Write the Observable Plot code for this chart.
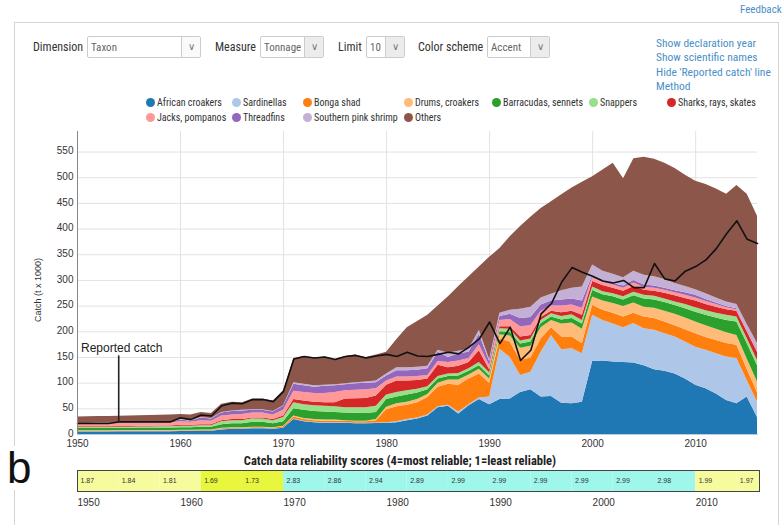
<!DOCTYPE html>
<html><head><meta charset="utf-8">
<script src="https://cdn.jsdelivr.net/npm/d3@7"></script>
<script src="https://cdn.jsdelivr.net/npm/@observablehq/plot@0.6"></script>
<style>
html,body{margin:0;padding:0;background:#fff;}
body{width:784px;height:525px;position:relative;overflow:hidden;font-family:"Liberation Sans Narrow","Roboto Condensed","Liberation Sans",sans-serif;color:#333;}
.abs{position:absolute;white-space:nowrap;}
.panel{position:absolute;left:14px;top:22px;width:763px;height:520px;border:1px solid #d4d4d4;}
.lbl{font-size:12px;color:#333;}
.sel{position:absolute;height:22px;border:1px solid #ccc;border-radius:2px;background:#fff;box-sizing:border-box;font-size:11px;color:#666;overflow:hidden;}
.sel span{position:absolute;left:3px;top:4px;}
.sel i{position:absolute;right:0;top:0;bottom:0;width:18px;border-left:1px solid #ccc;background:#ececec;font-style:normal;text-align:center;font-size:10px;line-height:20px;color:#777;}
.link{font-size:11.5px;color:#4a8fc7;}
.leg{position:absolute;font-size:10px;color:#333;white-space:nowrap;}
.leg b{display:inline-block;width:9px;height:9px;border-radius:50%;vertical-align:-1px;margin-right:2px;}
</style></head><body>
<script>
// ---------------- DATA ----------------
const years = [1950,1951,1952,1953,1954,1955,1956,1957,1958,1959,
  1960,1961,1962,1963,1964,1965,1966,1967,1968,1969,
  1970,1971,1972,1973,1974,1975,1976,1977,1978,1979,
  1980,1981,1982,1983,1984,1985,1986,1987,1988,1989,
  1990,1991,1992,1993,1994,1995,1996,1997,1998,1999,
  2000,2001,2002,2003,2004,2005,2006,2007,2008,2009,
  2010,2011,2012,2013,2014,2015,2016];

const taxa = ["African croakers","Sardinellas","Bonga shad","Drums, croakers","Barracudas, sennets","Snappers","Sharks, rays, skates","Jacks, pompanos","Threadfins","Southern pink shrimp","Others"];
const taxaColors = ["#1f77b4","#aec7e8","#ff7f0e","#ffbb78","#2ca02c","#98df8a","#d62728","#ff9896","#9467bd","#c5b0d5","#8c564b"];

const africanCroakers = [5,5,5,5,5.5,5.5,5.5,5.5,5.5,5.5, 6,6,6.5,6.5,9,10,10,11,11,10, 12,29,25,23,22,22,22,21,21,21.5, 22,23,27,30,36,52,55,40,56,68, 58,68,69,82,87,73,74,61,60,63, 142,143,141,140,139,134,126,123,118,108, 96,89,79,66,60,73,33];
const sardinellas = [0.5,0.5,0.5,0.5,0.5,0.5,0.5,0.5,0.5,0.5, 0.5,0.5,0.5,0.5,0.5,0.5,0.5,0.5,0.5,0.5, 0.5,1,1,1,1,1,1,1,1,1, 1,2,2,2,2,2,2,4,2,3, 15,98,81,33,34,87,119,104,107,94, 90,79,74,68,77,72,77,73,72,72, 74,75,78,85,88,32,30];
const bongaShad = [1,1,1,1,1,1,1,1,1,1, 1,1,1,1,1.5,1.5,1.5,1.5,1.5,1.5, 2.5,4,3,3,3,3,3,3,3,4.5, 25,29,28,30,34,38,41,52,50,47, 27,20,30,29,28,26,15,25,23,20, 19.5,20,21,21,20,23,23,23,22,24, 26,25,26,26,26,22,19];
const drumsCroakers = [1,1,1,1,1,1,1,1,1,1, 1,1,1,1,1,1,1,1,1,1, 1,2,2,2,2,2,1,1,1,2, 5,6,6,6,6,8,8,10,8,9, 8,8,12,24,23,22,14,25,27,28, 16,18,19,20,20,19,20,21,22,23, 23,23,22,21,19,20,20];
const barracudas = [4,4,4,4,4,4,4.5,4.5,4.5,4.5, 4.5,4.5,5,5,7,8,8,10,10,8, 9,14,16,16,16,15,15,15.5,15,14, 15,13,14,13,9,8,7,8,7,7, 6,6,7,8,8,8,7,8,9,10, 13,12,13,13,14,16,16,17,17,18, 19,20,22,24,26,30,32];
const snappers = [2,2,2,2,2,2,2,2,2.5,2.5, 3,3,3,3,6,6,6,6.5,6,6, 8,12,11,11,11,11,10,10.5,11,12, 9,9,8,7,6,5,5,5,5,6, 6,6,6,6,6,6,6,7,7,7, 6.5,6,6,6,7,7,7,7,7,8, 9,9,9,10,10,10,10];
const sharksRays = [1.5,1.5,1.5,1.5,1.5,1.5,1.5,1.5,1.5,1.5, 2,2,2,2,2,2,2,1.5,2,2, 3,6,7,7,7,8,17,17.5,18,20, 19,22,19,17,15,22,12,14,12,23, 6,4,5,8,7,6,5,7,7,10, 11,12,11,11,11,10,10,11,12,12, 13,12,12,11,11,13,16];
const jacksPompanos = [5,5,5.5,5.5,6,6,6,6,6,6, 7,6,8,7,9,9,10,10,10,9, 11,16,17,17,18,20,16,16.5,17,14, 8,8,8,8,7,7,10,10,8,12, 8,12,14,20,19,12,10,13,12,14, 7,6,6,6,7,5,6,6,6,6, 6,6,5,4,3,3,4];
const threadfins = [1,1,1,1,1,1,1,1,1,1, 3,2,5,4,6,7,7,5,5,6, 8,14,13,12,14,13,12,13,13,12, 10,12,12,12,13,18,10,14,12,20, 8,8,10,16,16,12,10,12,12,14, 4,3,3,4,5,5,4,4,4,5, 5,4,3,2,2,2,2];
const pinkShrimp = [0.5,0.5,0.5,0.5,0.5,0.5,0.5,0.5,0.5,0.5, 1,1,1,1,1,1,1,1,1,1, 1,3,3,3,2,2,2,2,2,3, 4,6,6,6,5,4,8,5,6,8, 4,6,8,18,20,14,13,18,21,27, 21,19,18,16,18,19,18,17,14,12, 11,11,10,9,8,9,11];
const others = [12.5,13,13,13,12.5,13,13,13.5,13.5,14, 10,11,10,10,16,17,15,21,21,20, 29,47,54,54,55,49,53,54,48,51, 42,55,78,89,99,86,110,126,141,123, 199,126,143,161,175,174,180,187,195,204, 172,197,216,193,219,230,229,226,224,217, 211,213,212,210,232,254,248];
const reportedCatch = [21.5,21.5,21.5,21.5,24.5,24.5,24.5,24.5,24.5,24.5, 32.5,29,38,36,56,61,60,68,68,64, 84,147,152,149,151,146,152,154,149,153, 156,152,160,153,152,156,160,157,170,186, 219,177,209,144,164,235,255,297,325,316, 308,299,295,300,286,286,333,303,299,318, 327,340,362,391,416,380,372];

const yTicks = [0,50,100,150,200,250,300,350,400,450,500,550];
const xTicks = [1950,1960,1970,1980,1990,2000,2010];

const reliabilityStart = [1950,1954,1958,1962,1966,1970,1974,1978,1982,1986,1990,1994,1998,2002,2006,2010,2014];
const reliabilityScore = [1.87,1.84,1.81,1.69,1.73,2.83,2.86,2.94,2.89,2.99,2.99,2.99,2.99,2.99,2.98,1.99,1.97];
const reliabilitySpan = 4;

const annotationYear = 1954;
const annotationTopValue = 153;
const annotationLabelValue = 169;

// ---------------- BUILD ----------------
const seriesValues = [africanCroakers,sardinellas,bongaShad,drumsCroakers,barracudas,snappers,sharksRays,jacksPompanos,threadfins,pinkShrimp,others];
const stackData = [];
taxa.forEach((t,i)=>years.forEach((y,j)=>stackData.push({year:y,taxon:t,value:seriesValues[i][j]})));
const reported = years.map((y,j)=>({year:y,value:reportedCatch[j]}));
const blocks = reliabilityStart.map((s,i)=>({start:s,end:s+reliabilitySpan,score:reliabilityScore[i]}));

function el(html){const d=document.createElement("div");d.innerHTML=html;return d.firstElementChild;}
function add(html){document.body.appendChild(el(html));}

add('<div class="panel"></div>');
add('<div class="abs link" style="left:740px;top:3px;font-size:11px;">Feedback</div>');

// controls
add('<div class="abs lbl" style="left:33px;top:40px;">Dimension</div>');
add('<div class="sel" style="left:87px;top:36px;width:114px;"><span>Taxon</span><i style="background:#fafafa">&#8744;</i></div>');
add('<div class="abs lbl" style="left:215px;top:40px;">Measure</div>');
add('<div class="sel" style="left:260px;top:36px;width:64px;"><span>Tonnage</span><i>&#8744;</i></div>');
add('<div class="abs lbl" style="left:338px;top:40px;">Limit</div>');
add('<div class="sel" style="left:366px;top:36px;width:39px;"><span>10</span><i>&#8744;</i></div>');
add('<div class="abs lbl" style="left:418px;top:40px;">Color scheme</div>');
add('<div class="sel" style="left:487px;top:36px;width:63px;"><span>Accent</span><i>&#8744;</i></div>');
add('<div class="abs link" style="left:656px;top:36px;">Show declaration year</div>');
add('<div class="abs link" style="left:656px;top:50px;">Show scientific names</div>');
add('<div class="abs link" style="left:656px;top:65px;">Hide \'Reported catch\' line</div>');
add('<div class="abs link" style="left:656px;top:79px;">Method</div>');

// legend (layout positions)
const legendPos = [[146,97],[232,97],[303,97],[404,97],[492,97],[589,97],[667,97],[146,112],[232,112],[303,112],[404,112]];
taxa.forEach((t,i)=>{
  add(`<div class="leg" style="left:${legendPos[i][0]}px;top:${legendPos[i][1]}px;"><b style="background:${taxaColors[i]}"></b>${t}</div>`);
});

// y label
add('<div class="abs" style="left:38px;top:290px;transform:translate(-50%,-50%) rotate(-90deg);font-family:\'Liberation Sans\',Arial,sans-serif;font-size:9px;color:#333;">Catch (t x 1000)</div>');

// main chart
const main = Plot.plot({
  width: 784, height: 330,
  marginLeft: 77, marginRight: 27, marginTop: 5, marginBottom: 22,
  x: {domain: [1950, 2016]},
  y: {domain: [0, 590]},
  color: {domain: taxa, range: taxaColors},
  style: {fontFamily: "'Liberation Sans', Arial, sans-serif", fontSize: "10px", color: "#333", background: "transparent", overflow: "visible"},
  marks: [
    Plot.gridY(yTicks, {stroke: "#e2e2e2", strokeOpacity: 1}),
    Plot.gridX(xTicks, {stroke: "#e2e2e2", strokeOpacity: 1}),
    Plot.areaY(stackData, {x: "year", y: "value", fill: "taxon"}),
    Plot.line(reported, {x: "year", y: "value", stroke: "#111", strokeWidth: 1.6}),
    Plot.ruleX(reported.filter(d=>d.year===annotationYear), {x: "year", y1: "value", y2: () => annotationTopValue, stroke: "#222", strokeWidth: 1.6}),
    Plot.text(["Reported catch"], {x: () => annotationYear, y: () => annotationLabelValue, text: d => d, dx: 3, fontSize: 12, fill: "#222"}),
    Plot.frame({anchor: "left", stroke: "#888"}),
    Plot.frame({anchor: "bottom", stroke: "#bcd"}),
    Plot.axisY(yTicks, {tickSize: 0, tickPadding: 4, label: null, fill: "#333", dy: -1}),
    Plot.axisX(xTicks, {tickSize: 0, tickPadding: 5, label: null, tickFormat: d => String(d), fill: "#333"})
  ]
});
main.style.position = "absolute"; main.style.left = "0px"; main.style.top = "126px";
document.body.appendChild(main);

// reliability
add('<div class="abs" style="left:400px;top:453px;transform:translateX(-50%);font-size:12.5px;font-weight:bold;color:#222;">Catch data reliability scores (4=most reliable; 1=least reliable)</div>');

const scoreColor = s => s < 1.75 ? "#e9f63e" : (s < 2.5 ? "#f6fb9e" : "#9ff6ea");
const bar = Plot.plot({
  width: 784, height: 46,
  marginLeft: 77, marginRight: 25, marginTop: 4, marginBottom: 21,
  x: {domain: [1950, 2016.2]},
  style: {fontFamily: "'Liberation Sans', Arial, sans-serif", fontSize: "10px", color: "#333", background: "transparent"},
  marks: [
    Plot.barX(blocks, {x1: "start", x2: "end", fill: d => scoreColor(d.score), clip: true}),
    Plot.text(blocks, {x: "start", text: d => d.score.toFixed(2), dx: 3, textAnchor: "start", fontSize: 7, fill: "#333"}),
    Plot.frame({stroke: "#444"}),
    Plot.axisX(xTicks, {tickSize: 0, tickPadding: 7, textAnchor: "start", label: null, tickFormat: d => String(d), fill: "#333"})
  ]
});
bar.style.position = "absolute"; bar.style.left = "0px"; bar.style.top = "466px";
document.body.appendChild(bar);

add('<div class="abs" style="left:5px;top:446px;font-family:\'Liberation Sans\',Arial,sans-serif;font-size:44px;line-height:1;color:#111;background:#fff;padding:0 2px;">b</div>');
</script>
</body></html>
